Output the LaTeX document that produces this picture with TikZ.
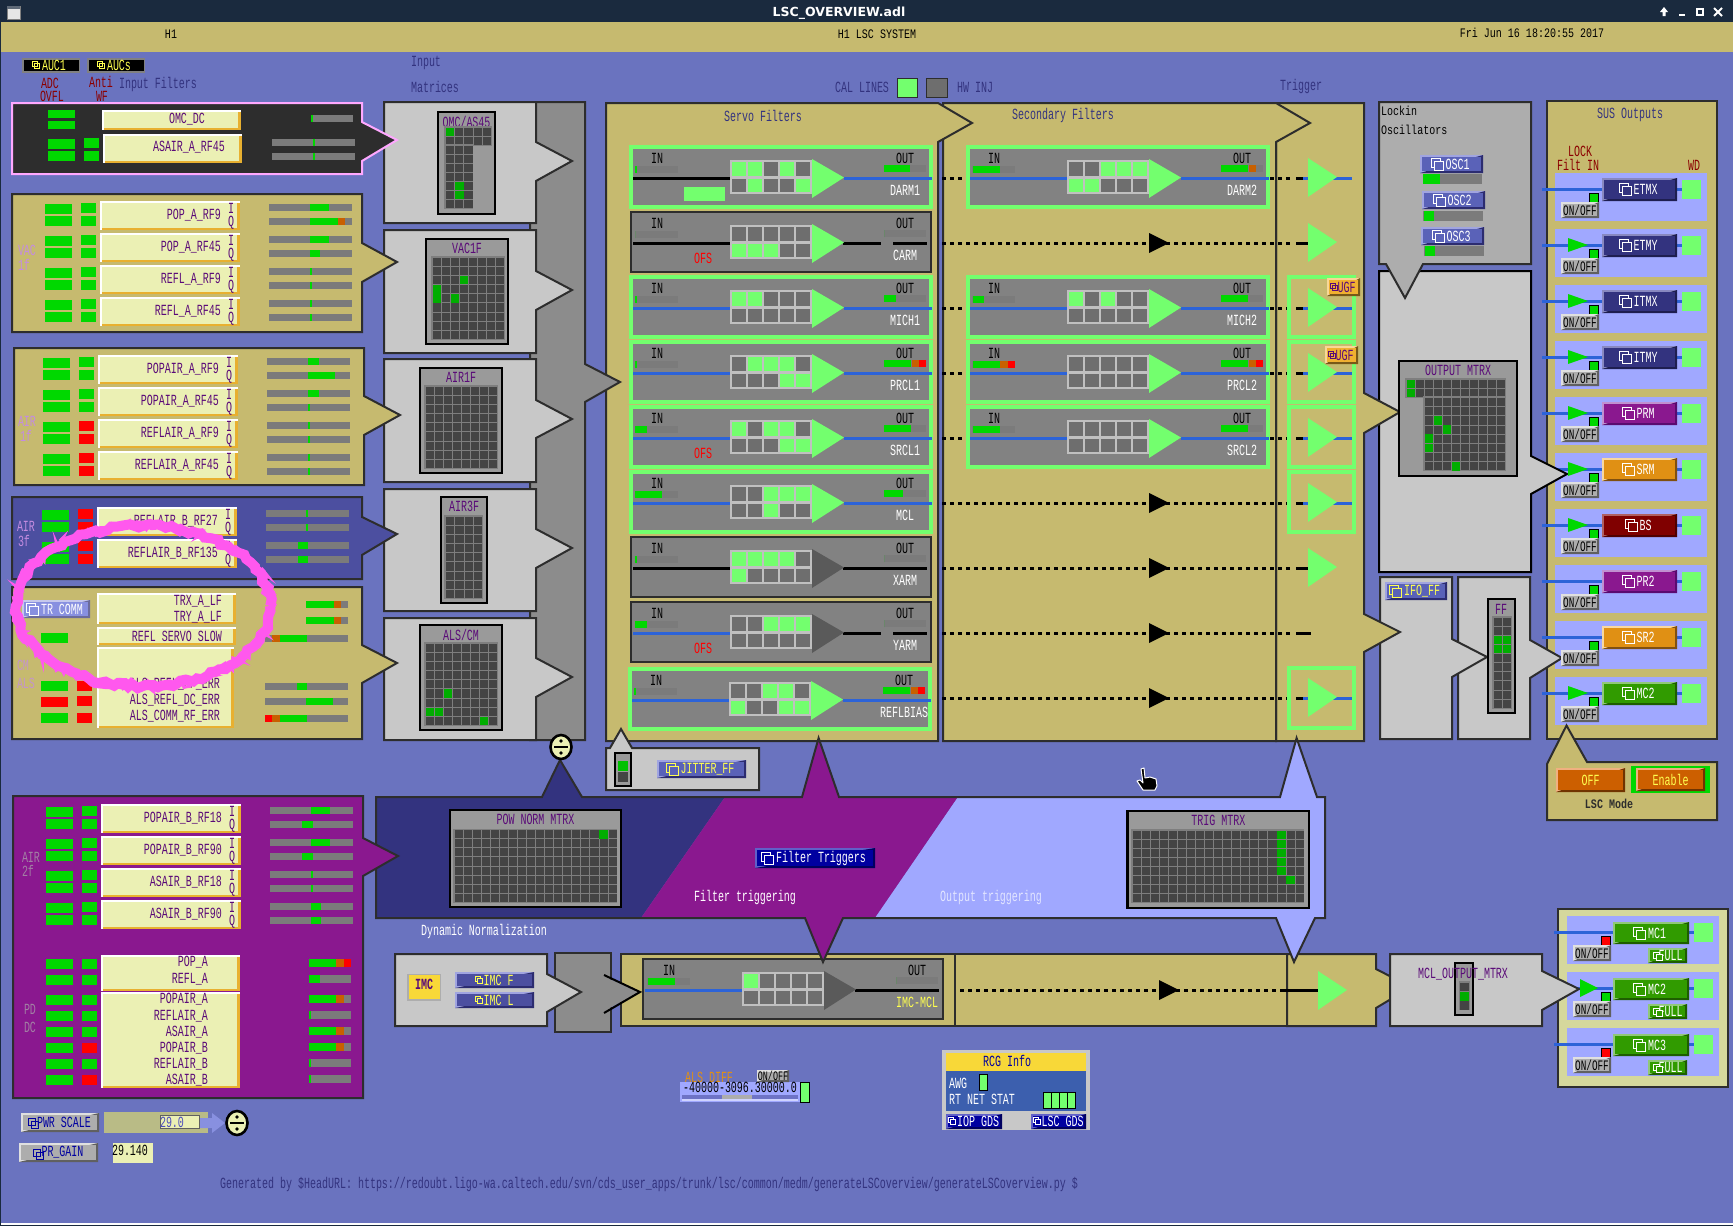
\documentclass[tikz,border=0pt]{standalone}
\usepackage{fontspec}
\usetikzlibrary{decorations.pathmorphing}
\newfontfamily\pf[FakeStretch=0.645]{Liberation Mono}
\newfontfamily\hf[FakeStretch=0.77]{Liberation Mono}
\newfontfamily\tf{DejaVu Sans}
\definecolor{bgb}{HTML}{6A73BF}
\definecolor{tanc}{HTML}{C6BA6F}
\definecolor{lyel}{HTML}{EBF0B4}
\definecolor{pgray}{HTML}{C8C8C8}
\definecolor{bandg}{HTML}{8C8C8C}
\definecolor{edge}{HTML}{2D2D2D}
\definecolor{grn}{HTML}{00D800}
\definecolor{lgrn}{HTML}{73FF6E}
\definecolor{org}{HTML}{C86000}
\definecolor{rd}{HTML}{FF0000}
\definecolor{barg}{HTML}{7B7B7B}
\definecolor{ptxt}{HTML}{5A0A78}
\definecolor{purp}{HTML}{8A188F}
\definecolor{purl}{HTML}{C090D0}
\definecolor{purd}{HTML}{5A0A70}
\definecolor{nv}{HTML}{33337F}
\definecolor{nvl}{HTML}{8888C0}
\definecolor{nvd}{HTML}{1E1E50}
\definecolor{mnv}{HTML}{4C4FA0}
\definecolor{lav}{HTML}{A0A8FF}
\definecolor{wblue}{HTML}{2C63D8}
\definecolor{modg}{HTML}{828282}
\definecolor{cellg}{HTML}{6E6E6E}
\definecolor{cbox}{HTML}{C0C0C0}
\definecolor{dtri}{HTML}{5A5A5A}
\definecolor{loy}{HTML}{E8B030}
\definecolor{sorg}{HTML}{E09014}
\definecolor{sorl}{HTML}{F8D8A0}
\definecolor{sord}{HTML}{805010}
\definecolor{mar}{HTML}{800000}
\definecolor{marl}{HTML}{B06060}
\definecolor{mard}{HTML}{500000}
\definecolor{gre}{HTML}{319B00}
\definecolor{grel}{HTML}{90C878}
\definecolor{gred}{HTML}{1E5E00}
\definecolor{oran}{HTML}{CC5F00}
\definecolor{oranl}{HTML}{F0B080}
\definecolor{orand}{HTML}{703400}
\definecolor{dk}{HTML}{9A9A9A}
\definecolor{cellk}{HTML}{444444}
\definecolor{gridb}{HTML}{7E7E7E}
\definecolor{ybtn}{HTML}{F8D838}
\definecolor{yt}{HTML}{FFFF50}
\definecolor{dblue}{HTML}{0000A0}
\definecolor{dbll}{HTML}{6060C8}
\definecolor{dbld}{HTML}{000060}
\definecolor{gbtn}{HTML}{ADADAD}
\definecolor{gbl}{HTML}{E0E0E0}
\definecolor{gbd}{HTML}{606060}
\definecolor{mnl}{HTML}{A0A4E0}
\definecolor{mnd}{HTML}{2C2C70}
\definecolor{mb}{HTML}{5A62B8}
\definecolor{trc}{HTML}{8890E0}
\definecolor{pale}{HTML}{D5D89C}
\definecolor{darkred}{HTML}{8B0000}
\definecolor{faint}{HTML}{C48CE0}
\definecolor{title}{HTML}{1A2A3E}
\definecolor{rcgb}{HTML}{3C5FAE}
\definecolor{ubtn}{HTML}{F0B030}
\definecolor{scr}{HTML}{FF58EE}
\definecolor{pinkb}{HTML}{FFA8FF}
\definecolor{olive}{HTML}{B9BB86}
\newcounter{nid}
\tikzset{
 lab/.style={inner sep=0pt,font=\pf\fontsize{15.5}{16}\selectfont},
 hlab/.style={inner sep=0pt,font=\hf\fontsize{13}{14}\selectfont},
 pan/.style={draw=edge,line width=2pt,line join=miter},
 dotw/.style={line width=3pt,dash pattern=on 3.6pt off 4.4pt,black},
 wire/.style={line width=3pt,wblue},
 wirek/.style={line width=3pt,black},
 frG/.style={draw=lgrn,line width=3.6pt},
 frK/.style={draw=edge,line width=2.6pt},
}
\newcommand{\tx}[5]{\stepcounter{nid}\node[lab,text=#3,anchor=#4] (t\thenid) at (#1,#2) {#5};}
\newcommand{\hx}[5]{\stepcounter{nid}\node[hlab,text=#3,anchor=#4] (t\thenid) at (#1,#2) {#5};}
\newcommand{\rr}[5]{\fill[fill=#5] (#1,#2) rectangle (#3,#4);}
\newcommand{\lvl}[5]{\fill[barg] (#1,#3) rectangle (#2,#3+#4);
 \foreach \segA/\segB/\segC in {#5} {\fill[fill=\segC] (\segA,#3) rectangle (\segB,#3+#4);}}
\newcommand{\lvlm}[5]{\fill[barg] (#1,#3) rectangle (#2,#3+#4);
 \foreach \segA/\segB/\segC in #5 {\fill[fill=\segC] (\segA,#3) rectangle (\segB,#3+#4);}}
\newcommand{\parr}[9]{\draw[pan,#9] (#1,#2) -- (#3,#2) -- (#3,#5) -- (#6,#7) -- (#3,#8) -- (#3,#4) -- (#1,#4) -- cycle;}
\newcommand{\lbox}[4]{\fill[lyel] (#1,#2) rectangle (#3,#4);
 \fill[loy] (#1,#4-2) rectangle (#3,#4); \fill[loy] (#3-3,#2) rectangle (#3,#4);
 \fill[white] (#1,#2) rectangle (#3,#2+2); \fill[white] (#1,#2) rectangle (#1+1.5,#4);}
\newcommand{\bev}[7]{\fill[fill=#6] (#1,#2) rectangle (#3,#4);
 \fill[fill=#7] (#3,#2) -- (#3,#4) -- (#1,#4) -- cycle;
 \fill[fill=#5] (#1+2,#2+2) rectangle (#3-2,#4-2);}
\newcommand{\btn}[9]{\bev{#1}{#2}{#3}{#4}{#5}{#6}{#7}\stepcounter{nid}
 \node[lab,text=#8] (b\thenid) at ({(#1+#3)/2+6},{(#2+#4)/2}) {#9};
 \draw[draw=#8,line width=.9pt] ([shift={(-14,-6)}]b\thenid.west) rectangle +(9,9);
 \draw[draw=#8,line width=.9pt,fill=#5] ([shift={(-11,-3)}]b\thenid.west) rectangle +(9,9);}
\newcommand{\sbtn}[9]{\bev{#1}{#2}{#3}{#4}{#5}{#6}{#7}\stepcounter{nid}
 \node[lab,text=#8] (b\thenid) at ({(#1+#3)/2+4},{(#2+#4)/2}) {#9};
 \draw[draw=#8,line width=.8pt] ([shift={(-8,-4)}]b\thenid.west) rectangle +(5,5);
 \draw[draw=#8,line width=.8pt,fill=#5] ([shift={(-6,-2)}]b\thenid.west) rectangle +(5,5);}
\newcommand{\pbtn}[9]{\bev{#1}{#2}{#3}{#4}{#5}{#6}{#7}\stepcounter{nid}
 \node[lab,text=#8] (b\thenid) at ({(#1+#3)/2},{(#2+#4)/2}) {#9};}
\newcommand{\onoff}[2]{\pbtn{#1}{#2}{#1+38}{#2+16}{gbtn}{gbl}{gbd}{black}{\fontsize{14.5}{15}\selectfont ON/OFF}}
\newcommand{\grid}[7]{\fill[gridb] (#1-1,#2-1) rectangle ({#1+#3*#5+.5},{#2+#4*#6+.5});
 \foreach \i in {1,...,#3} \foreach \j in {1,...,#4}
  {\fill[cellk] ({#1+(\i-1)*#5+.7},{#2+(\j-1)*#6+.7}) rectangle ({#1+\i*#5-.3},{#2+\j*#6-.3});}
 \foreach \gc/\gr in {#7} {\ifnum\gc<0\else
  \fill[fill=grn!80!black] ({#1+\gc*#5+.5},{#2+\gr*#6+.5}) rectangle ({#1+(\gc+1)*#5},{#2+(\gr+1)*#6});\fi}}
\newcommand{\mtxbox}[5]{\draw[fill=dk,line width=2.4pt,draw=black] (#1,#2) rectangle (#3,#4); \tx{{(#1+#3)/2}}{#2+9.5}{ptxt}{center}{#5}}
\newcommand{\rfrow}[7]{\rr{#1}{#2}{#1+27}{#2+10}{grn}\rr{#1}{#2+12}{#1+27}{#2+22}{grn}
 \rr{#1+36}{#2-1}{#1+51}{#2+9}{#4}\rr{#1+36}{#2+12}{#1+51}{#2+22}{#5}
 \lbox{#1+55}{#2-3}{#1+195}{#2+26}
 \tx{#1+176}{#2+11}{ptxt}{east}{#3}\tx{#1+186}{#2+4}{ptxt}{center}{I}\tx{#1+186}{#2+19}{ptxt}{center}{Q}
 \lvl{#1+224}{#1+307}{#2}{7}{#6}\lvl{#1+224}{#1+307}{#2+14}{7}{#7}}
\def\namecol{white}
\newcommand{\fmod}[9]{\begin{scope}[shift={(#1,#2)}]
 \draw[#3,fill=modg] (2,2) rectangle (302,62);
 \tx{28}{13}{black}{center}{IN}\tx{276}{13}{black}{center}{OUT}
 \lvl{6}{49}{21}{7}{#6}\lvl{255}{297}{20}{7}{#7}
 \draw[line width=3pt,draw=#5] (4,33) -- (101,33);
 #4
 \tx{276}{45}{\namecol}{center}{#9}
 \fmodB{#8}}
\newcommand{\fmodB}[3]{\fill[cbox] (101,15) rectangle (183,49);
 \foreach \v [count=\i] in {#2} {\ifnum\v=1\def\cl{lgrn}\else\def\cl{cellg}\fi\fill[fill=\cl] ({103+(\i-1)*16},17) rectangle ({117+(\i-1)*16},31);}
 \foreach \v [count=\i] in {#3} {\ifnum\v=1\def\cl{lgrn}\else\def\cl{cellg}\fi\fill[fill=\cl] ({103+(\i-1)*16},34) rectangle ({117+(\i-1)*16},47);}
 \fill[fill=#1] (183,14) -- (215,32.5) -- (183,53) -- cycle;
 \end{scope}}
\newcommand{\rw}{\draw[wire] (215,33) -- (303,33);}
\newcommand{\rk}{\draw[wirek] (214,33) -- (252,33) (264,33) -- (298,33);}
\newcommand{\rks}{\draw[wirek] (214,33) -- (298,33);}
\newcommand{\divd}[2]{\draw[fill=lyel,line width=2.6pt,draw=black] (#1,#2) ellipse [x radius=10.5, y radius=12];
 \draw[black,line width=2pt] (#1-7,#2) -- (#1+7,#2); \fill[black] (#1,#2-6) circle (1.9) (#1,#2+6) circle (1.9);}
\newcommand{\trg}[1]{\fill[lgrn] (1308,#1-20) -- (1337,#1-1) -- (1308,#1+19) -- cycle;}
\newcommand{\uarr}[2]{\fill[black] (#1,#2-10) -- (#1+20,#2) -- (#1,#2+10) -- cycle;}
\begin{document}
\begin{tikzpicture}[x=1pt,y=-1pt]
\useasboundingbox (0,0) rectangle (1733,1226);
\fill[bgb] (0,0) rectangle (1733,1226);
\fill[title] (0,0) rectangle (1733,22);
\fill[white] (0,1222.5) rectangle (1733,1225);
\fill[title] (0,1225) rectangle (1733,1226);
\fill[title] (0,22) rectangle (1,1226);
\fill[tanc] (1,22) rectangle (1733,52);
\draw[fill=white!90!black,draw=gray] (7,6) rectangle (20,19); \fill[title!70] (7,6) rectangle (20,9);
\node[inner sep=0pt,text=white,font=\tf\bfseries\fontsize{12.5}{14}\selectfont] (ttl) at (839,13) {LSC\_OVERVIEW.adl};
\fill[white] (1664,7) -- (1668,12) -- (1665.5,12) -- (1665.5,16) -- (1662.5,16) -- (1662.5,12) -- (1660,12) -- cycle;
\fill[white] (1679,13.5) rectangle (1685,15.5);
\draw[white,line width=1.5pt] (1697,9) rectangle (1703,15);
\draw[white,line width=2pt] (1714,8) -- (1722,16) (1722,8) -- (1714,16);
\hx{171}{34}{black}{center}{H1}
\hx{877}{34}{black}{center}{H1 LSC SYSTEM}
\hx{1532}{33}{black}{center}{Fri Jun 16 18:20:55 2017}
% top labels
\tx{50}{83}{darkred}{center}{ADC}\tx{52}{96}{darkred}{center}{OVFL}
\tx{101}{82}{darkred}{center}{Anti}\tx{102}{96}{darkred}{center}{WF}
\tx{158}{84}{nv}{center}{Input Filters}
\tx{426}{63}{nv}{center}{Input}\tx{435}{87}{nv}{center}{Matrices}
\tx{862}{87}{nv}{center}{CAL LINES}\tx{975}{87}{nv}{center}{HW INJ}\tx{1301}{86}{nv}{center}{Trigger}
\draw[fill=lgrn,draw=edge,line width=1pt] (897,78) rectangle (917,97);
\draw[fill=cellg,draw=edge,line width=1pt] (926,78) rectangle (947,97);
\foreach \xa/\xb/\st in {22/80/AUC1,87/145/AUCs}{
 \fill[gray] (\xa,58) rectangle (\xb,72.5); \fill[black] (\xa+1.5,59.5) rectangle (\xb-1.5,71);
 \stepcounter{nid}\node[lab,text=yt] (a\thenid) at ({(\xa+\xb)/2+3},65) {\st};
 \draw[yt,line width=.8pt] ([shift={(-9,-4)}]a\thenid.west) rectangle +(5,5) ([shift={(-7,-2)}]a\thenid.west) rectangle +(5,5);}
% ===== SUS panel
\draw[pan,fill=tanc] (1547,101) rectangle (1717,739);
\tx{1630}{115}{nv}{center}{SUS Outputs}
\tx{1580}{151}{darkred}{center}{LOCK}\tx{1578}{165}{darkred}{center}{Filt IN}\tx{1694}{165}{darkred}{center}{WD}
\foreach \k in {0,...,9}{
 \pgfmathsetmacro\yy{173+56*\k}
 \fill[lav] (1555,\yy) rectangle (1707,\yy+48);
 \draw[wire] (1542,\yy+16) -- (1602,\yy+16);
 \draw[wire] (1677,\yy+16) -- (1682,\yy+16);}
% ===== output panels
\parr{1379}{271}{1531}{572}{456}{1567}{474}{494}{fill=pgray,draw=black}
\parr{1458}{577}{1530}{739}{640}{1562}{658}{678}{fill=pgray}
\parr{1380}{577}{1452}{739}{639}{1487}{657}{677}{fill=pgray}
% ===== servo panels
\draw[pan,fill=tanc] (1276,103) -- (1364,103) -- (1364,393) -- (1400,412) -- (1364,433) -- (1364,614) -- (1400,632) -- (1364,652) -- (1364,741) -- (1276,741) -- cycle;
\draw[pan,fill=tanc] (943,103) -- (1276,103) -- (1310,123) -- (1276,142) -- (1276,741) -- (943,741) -- cycle;
\draw[pan,fill=tanc] (606,103) -- (938,103) -- (972,123) -- (938,142) -- (938,741) -- (606,741) -- cycle;
\tx{763}{116}{nv}{center}{Servo Filters}\tx{1063}{115}{nv}{center}{Secondary Filters}
% band + matrix panels
\draw[pan,fill=bandg] (530,102) -- (585,102) -- (585,364) -- (620,382) -- (585,402) -- (585,740) -- (530,740) -- cycle;
\parr{384}{102}{536}{223}{142}{572}{161}{181}{fill=pgray}
\parr{384}{230}{536}{353}{271}{572}{290}{310}{fill=pgray}
\parr{384}{359}{536}{482}{400}{572}{419}{438}{fill=pgray}
\parr{384}{489}{536}{611}{529}{572}{548}{568}{fill=pgray}
\parr{384}{618}{536}{740}{658}{572}{677}{697}{fill=pgray}
\mtxbox{438}{112}{495}{214}{OMC/AS45}
\grid{445}{127}{5}{2}{9.3}{9}{0/0}
\grid{445}{145}{3}{7}{9.3}{9}{1/4,1/5}
\mtxbox{426}{239}{508}{344}{VAC1F}
\grid{432}{257}{8}{9}{9.05}{9.15}{3/2,0/3,0/4,2/4}
\mtxbox{420}{368}{502}{473}{AIR1F}
\grid{425}{386}{8}{9}{9.05}{9.15}{-1/-1}
\mtxbox{441}{497}{487}{603}{AIR3F}
\grid{445}{516}{4}{9}{9.4}{9.15}{-1/-1}
\mtxbox{420}{625}{502}{730}{ALS/CM}
\grid{425}{643}{8}{9}{9.05}{9.15}{2/5,0/7,1/7,6/8}
% ===== input filter panels
\parr{12}{103}{362}{174}{122}{397}{140}{161}{fill=edge,draw=pinkb}
\rr{48}{110}{75}{118}{grn}\rr{48}{121}{75}{129}{grn}\rr{48}{139}{75}{149}{grn}\rr{48}{151}{75}{161}{grn}
\rr{84}{138}{99}{148}{grn}\rr{84}{151}{99}{161}{grn}
\lbox{102}{110}{241}{130}\lbox{103}{134}{242}{163}
\tx{187}{119}{ptxt}{center}{OMC\_DC}\tx{189}{147}{ptxt}{center}{ASAIR\_A\_RF45}
\lvl{311}{353}{115}{7}{311/313/grn}\lvl{272}{355}{139}{7}{313/315/grn}\lvl{272}{355}{153}{7}{313/315/grn}
%
\parr{12}{194}{362}{332}{243}{397}{262}{282}{fill=tanc}
\tx{27}{250}{faint}{center}{VAC}\tx{24}{265}{faint}{center}{1f}
\rfrow{45}{204}{POP\_A\_RF9}{grn}{grn}{310/329/grn}{310/338/grn,338/345/org}
\rfrow{45}{236}{POP\_A\_RF45}{grn}{grn}{310/329/grn}{310/320/grn}
\rfrow{45}{268}{REFL\_A\_RF9}{grn}{grn}{310/312/grn}{310/312/grn}
\rfrow{45}{300}{REFL\_A\_RF45}{grn}{grn}{310/312/grn}{310/312/grn}
%
\parr{14}{348}{364}{485}{396}{400}{415}{435}{fill=tanc}
\tx{27}{421}{faint}{center}{AIR}\tx{26}{436}{faint}{center}{1f}
\rfrow{43}{358}{POPAIR\_A\_RF9}{grn}{grn}{308/319/grn}{308/335/grn}
\rfrow{43}{390}{POPAIR\_A\_RF45}{grn}{grn}{308/319/grn}{308/310/grn}
\rfrow{43}{422}{REFLAIR\_A\_RF9}{rd}{rd}{308/310/grn}{308/310/grn}
\rfrow{43}{454}{REFLAIR\_A\_RF45}{rd}{rd}{308/310/grn}{308/310/grn}
%
\parr{12}{497}{362}{579}{517}{397}{534}{555}{fill=mnv}
\tx{26}{526}{faint}{center}{AIR}\tx{24}{541}{faint}{center}{3f}
\rfrow{42}{510}{REFLAIR\_B\_RF27}{rd}{rd}{306/308/grn}{306/308/grn}
\rfrow{42}{542}{REFLAIR\_B\_RF135}{rd}{rd}{298/308/grn}{298/308/grn}
%
\parr{12}{587}{362}{739}{645}{397}{663}{683}{fill=tanc}
\btn{22}{600}{90}{618}{trc}{mnl!60!white}{mnd!70}{white}{TR COMM}
\lbox{97}{593}{236}{624}\lbox{97}{627}{236}{645}\lbox{97}{647}{234}{728}
\tx{222}{601}{ptxt}{east}{TRX\_A\_LF}\tx{222}{617}{ptxt}{east}{TRY\_A\_LF}
\tx{222}{636}{ptxt}{east}{REFL SERVO SLOW}
\tx{220}{684}{ptxt}{east}{ALS\_REFL\_RF\_ERR}\tx{220}{700}{ptxt}{east}{ALS\_REFL\_DC\_ERR}\tx{220}{716}{ptxt}{east}{ALS\_COMM\_RF\_ERR}
\rr{41}{633}{68}{643}{grn}\rr{41}{681}{68}{691}{grn}\rr{41}{697}{68}{707}{rd}\rr{41}{713}{68}{723}{grn}
\rr{77}{681}{92}{691}{rd}\rr{77}{696}{92}{706}{rd}\rr{77}{713}{92}{723}{rd}
\lvl{306}{348}{601}{7}{306/334/grn,334/341/org}\lvl{306}{348}{617}{7}{306/334/grn,334/341/org}
\lvl{265}{348}{635}{7}{272/280/org,280/307/grn}
\lvl{265}{348}{683}{7}{297/307/grn}\lvl{265}{348}{698}{7}{306/333/grn}\lvl{265}{348}{715}{7}{265/272/rd,272/280/org,280/307/grn}
\tx{23}{665}{faint!80!tanc}{center}{CM}\tx{26}{683}{faint!80!tanc}{center}{ALS}
% ===== dotted lines and trigger
\foreach \yc in {178,308,373,438}{\draw[dotw] (942,\yc) -- (966,\yc);}
\foreach \yc in {243,503,568,633,698}{\draw[dotw] (942,\yc) -- (1292,\yc); \uarr{1149}{\yc}}
\foreach \yc in {178,308,373,438}{\draw[dotw] (1270,\yc) -- (1292,\yc);}
\foreach \yf in {275,340,405,470,666}{\draw[lgrn,line width=3.5pt] (1289,\yf+2) rectangle (1354,\yf+62);}
\foreach \yc in {178,308,373,438,503,698}{\draw[wirek] (1296,\yc) -- (1304,\yc); \draw[wire] (1303,\yc) -- (1352,\yc); \trg{\yc}}
\foreach \yc in {243,568}{\draw[wirek] (1296,\yc) -- (1308,\yc); \trg{\yc}}
\draw[wirek] (1296,633) -- (1311,633);
\pbtn{1327}{278}{1360}{296}{ubtn}{ubtn!50!white}{ubtn!50!black}{ptxt}{\hspace{6pt}UGF}
\pbtn{1325}{346}{1358}{364}{ubtn}{ubtn!50!white}{ubtn!50!black}{ptxt}{\hspace{6pt}UGF}
\foreach \xb/\yb in {1330/287,1328/355}{\draw[ptxt,line width=.7pt] (\xb,\yb-4) rectangle +(5,5) (\xb+2,\yb-2) rectangle +(5,5);}
% ===== filter modules
\fmod{629}{145}{frG}{\rw}{black}{6/8/grn}{255/281/grn}{lgrn}{DARM1}{1,1,0,1,0}{0,1,0,0,1}
\rr{684}{187}{725}{201}{lgrn}
\fmod{629}{210}{frK}{\rk}{black}{6/6/grn}{255/255/grn}{lgrn}{CARM}{0,0,0,0,0}{1,1,1,0,0}
\tx{703}{258}{rd}{center}{OFS}
\fmod{629}{275}{frG}{\rw}{wblue}{6/8/grn}{255/267/grn}{lgrn}{MICH1}{1,1,0,0,0}{0,0,0,0,0}
\fmod{629}{340}{frG}{\rw}{wblue}{6/8/grn}{255/282/grn,283/290/org,290/297/rd}{lgrn}{PRCL1}{0,1,1,1,0}{0,0,0,1,1}
\fmod{629}{405}{frG}{\rw}{wblue}{6/18/grn}{255/282/grn}{lgrn}{SRCL1}{1,0,1,1,0}{0,0,0,1,1}
\tx{703}{453}{rd}{center}{OFS}
\fmod{629}{470}{frG}{\rw}{wblue}{6/33/grn}{255/274/grn}{lgrn}{MCL}{0,0,1,1,1}{0,0,1,0,0}
\fmod{629}{535}{frK}{\rks}{black}{6/8/grn}{255/255/grn}{dtri}{XARM}{1,1,1,1,0}{1,0,0,0,0}
\fmod{629}{600}{frK}{\rk}{wblue}{6/18/grn}{255/255/grn}{dtri}{YARM}{0,0,1,1,1}{0,0,0,0,0}
\tx{703}{648}{rd}{center}{OFS}
\fmod{628}{667}{frG}{\rw}{wblue}{6/8/grn}{255/282/grn,283/290/org,290/297/rd}{lgrn}{REFLBIAS}{0,0,1,1,0}{1,0,0,1,1}
\fmod{966}{145}{frG}{\rw}{wblue}{7/34/grn}{255/282/grn,283/290/org}{lgrn}{DARM2}{0,0,1,1,1}{1,1,0,0,0}
\fmod{966}{275}{frG}{\rw}{wblue}{7/18/grn}{255/282/grn}{lgrn}{MICH2}{1,0,1,0,0}{0,0,0,0,0}
\fmod{966}{340}{frG}{\rw}{wblue}{7/34/grn,34/42/org,42/49/rd}{255/282/grn,283/290/org,290/297/rd}{lgrn}{PRCL2}{0,0,0,0,0}{0,0,0,0,0}
\fmod{966}{405}{frG}{\rw}{wblue}{7/34/grn}{255/282/grn}{lgrn}{SRCL2}{0,0,0,0,0}{0,0,0,0,0}
% ===== lockin
\draw[pan,fill=gbtn] (1379,102) -- (1531,102) -- (1531,264) -- (1423,264) -- (1405,298) -- (1386,264) -- (1379,264) -- cycle;
\hx{1381}{111}{black}{west}{Lockin}\hx{1381}{130}{black}{west}{Oscillators}
\btn{1420}{155}{1483}{173}{mb}{mnl}{mnd}{white}{OSC1}\lvl{1423}{1482}{174}{10}{1423/1440/grn}
\btn{1422}{191}{1485}{209}{mb}{mnl}{mnd}{white}{OSC2}\lvl{1423}{1483}{211}{10}{1424/1434/grn}
\btn{1421}{227}{1484}{245}{mb}{mnl}{mnd}{white}{OSC3}\lvl{1424}{1484}{246}{10}{1425/1435/grn}
% output matrix
\mtxbox{1399}{361}{1517}{476}{OUTPUT MTRX}
\grid{1406}{379}{11}{2}{9.06}{9.17}{0/0,0/1}
\grid{1424.1}{397.3}{9}{8}{9.06}{9.17}{1/2,2/3,0/4,0/5,3/7}
\btn{1385}{582}{1447}{600}{mb}{mnl}{mnd}{yt}{IFO\_FF}
\draw[fill=dk,line width=2.4pt,draw=black] (1488,599) rectangle (1515,713);
\tx{1501}{609}{ptxt}{center}{FF}
\grid{1493}{617}{2}{10}{9}{9.1}{0/2,1/2,0/3,1/3}
% SUS buttons
\foreach \k/\nm/\bM/\bL/\bD/\tri in {0/ETMX/nv/nvl/nvd/0,1/ETMY/nv/nvl/nvd/1,2/ITMX/nv/nvl/nvd/1,3/ITMY/nv/nvl/nvd/1,4/PRM/purp/purl/purd/1,5/SRM/sorg/sorl/sord/1,6/BS/mar/marl/mard/1,7/PR2/purp/purl/purd/0,8/SR2/sorg/sorl/sord/0,9/MC2/gre/grel/gred/1}{
 \pgfmathsetmacro\yy{173+56*\k}
 \ifnum\tri=1 \fill[grn] (1568,\yy+9) -- (1588,\yy+16) -- (1568,\yy+23) -- cycle;\fi
 \btn{1602}{\yy+5}{1677}{\yy+28}{\bM}{\bL}{\bD}{white}{\nm}
 \fill[lgrn] (1682,\yy+7) rectangle (1701,\yy+26);
 \draw[fill=grn,draw=black,line width=1pt] (1589.5,\yy+20.5) rectangle (1598.5,\yy+29);
 \onoff{1561}{\yy+29}}
% LSC Mode
\draw[pan,fill=tanc] (1547,764) -- (1566.5,725.5) -- (1587,762) -- (1717,762) -- (1717,820) -- (1547,820) -- cycle;
\pbtn{1556}{768}{1625}{792}{oran}{oranl}{orand}{yt}{OFF}
\rr{1631}{766}{1710}{793}{grn}
\pbtn{1636}{768}{1705}{791}{oran}{oranl}{orand}{yt}{Enable}
\node[hlab,text=edge,font=\hf\bfseries\fontsize{13}{14}\selectfont] (lscm) at (1609,804) {LSC Mode};
% ===== bottom row
\draw[pan,fill=tanc] (621,954) rectangle (1287,1026);
\draw[pan,fill=tanc] (1287,954) -- (1376,954) -- (1376,969) -- (1411,987) -- (1376,1008) -- (1376,1026) -- (1287,1026) -- cycle;
\draw[pan] (955,954) -- (955,1026);
\draw[pan,fill=bandg] (555,953) rectangle (611,1032);
\fill[bandg] (600,975) -- (640,992) -- (600,1013) -- cycle;
\draw[black,line width=2pt] (604,975) -- (640,992) -- (604,1013);
\parr{395}{954}{547}{1026}{974}{581}{992}{1012}{fill=pgray}
\rr{407}{974}{441}{1001}{gbtn}\rr{409}{975}{440}{999}{ybtn}
\node[lab,text=ptxt,font=\pf\bfseries\fontsize{15.5}{16}\selectfont] (imcb) at (424,984) {IMC};
\sbtn{455}{972}{534}{988}{mnv}{mnl}{mnd}{yt}{IMC F}
\sbtn{455}{992}{534}{1008}{mnv}{mnl}{mnd}{yt}{IMC L}
\def\namecol{yt}
\fmod{641}{957}{frK}{\rks}{wblue}{7/34/grn}{255/255/grn}{dtri}{IMC-MCL}{1,0,0,0,0}{0,0,0,0,0}
\def\namecol{white}
\draw[dotw] (960,990) -- (1283,990); \uarr{1159}{990}
\draw[wirek] (1281,990) -- (1318,990);
\fill[lgrn] (1318,971) -- (1347,990) -- (1318,1010) -- cycle;
% right MC panel
\draw[pan,fill=pale] (1558,909) rectangle (1728,1087);
\foreach \yy in {916,972,1028}{\fill[lav] (1567,\yy) rectangle (1719,\yy+48);
 \draw[wire] (1554,\yy+16) -- (1613,\yy+16); \draw[wire] (1689,\yy+16) -- (1694,\yy+16);}
\parr{1390}{954}{1542}{1026}{971}{1579}{989}{1010}{fill=pgray}
\draw[fill=dk,line width=2.4pt,draw=black] (1455,963) rectangle (1473,1015);
\grid{1459.5}{982}{1}{3}{9.5}{9.3}{0/1}
\tx{1463}{974}{ptxt}{center}{MCL\_OUTPUT\_MTRX}
\fill[grn] (1580,979) -- (1598,988) -- (1580,997) -- cycle;
\foreach \yy/\nm/\sq in {916/MC1/rd,972/MC2/grn,1028/MC3/rd}{
 \btn{1613}{\yy+6}{1689}{\yy+28}{gre}{grel}{gred}{white}{\nm}
 \fill[lgrn] (1694,\yy+7) rectangle (1713,\yy+26);
 \draw[fill=\sq,draw=black,line width=1pt] (1601.5,\yy+20.5) rectangle (1610.5,\yy+29);
 \onoff{1573}{\yy+29}
 \pbtn{1648}{\yy+32}{1687}{\yy+47}{gre}{grel}{gred}{white}{\ FULL}
 \draw[white,line width=.8pt] (1653,\yy+36) rectangle +(6,6);
 \draw[draw=white,fill=gre,line width=.8pt] (1656,\yy+38) rectangle +(6,6);}
% ===== trigger band
\fill[nv] (376,797) -- (542,797) -- (560,760) -- (582,797) -- (725,797) -- (641,918) -- (376,918) -- cycle;
\fill[purp] (725,797) -- (802,797) -- (818.6,738) -- (839,797) -- (958,797) -- (875,918) -- (843,918) -- (823,962) -- (805,918) -- (641,918) -- cycle;
\fill[lav] (958,797) -- (1280,797) -- (1296.6,738) -- (1317,797) -- (1325,797) -- (1325,918) -- (1315,918) -- (1294,962) -- (1276,918) -- (875,918) -- cycle;
\draw[pan] (376,797) -- (542,797) -- (560,760) -- (582,797) -- (802,797) -- (818.6,738) -- (839,797) -- (1280,797) -- (1296.6,738) -- (1317,797) -- (1325,797) -- (1325,918) -- (1315,918) -- (1294,962) -- (1276,918) -- (843,918) -- (823,962) -- (805,918) -- (376,918) -- cycle;
\mtxbox{450}{810}{621}{907}{POW NORM MTRX}
\grid{454}{829.6}{18}{8}{9.05}{9.05}{16/0}
\mtxbox{1127.5}{811}{1309}{908}{TRIG MTRX}
\grid{1132}{830}{19}{8}{9.05}{9.05}{16/0,16/1,16/2,16/3,16/4,17/5}
\btn{755}{848}{875}{868}{dblue}{dbll}{dbld}{white}{Filter Triggers}
\tx{745}{897}{white}{center}{Filter triggering}
\tx{991}{897}{white!70!lav}{center}{Output triggering}
\tx{484}{931}{white}{center}{Dynamic Normalization}
\divd{561}{747}
% jitter
\draw[pan,fill=pgray] (606,748) -- (610,748) -- (621,729) -- (632,748) -- (759,748) -- (759,790) -- (606,790) -- cycle;
\draw[fill=dk,line width=2pt,draw=black] (615,753) rectangle (631,786);
\rr{618}{761}{628}{771}{grn!90!black}\rr{618}{772}{628}{782}{cellk}
\btn{657}{760}{746}{778}{mb}{mnl}{mnd}{yt}{JITTER\_FF}
% hand cursor
\draw[white,fill=black,line width=1pt,line join=round] (1141,769) -- (1144,768) -- (1145,778) -- (1150,777) -- (1156,779) -- (1157,786) -- (1155,790) -- (1143,790) -- (1137,781) -- (1140,780) -- (1143,783) -- cycle;
% ===== purple panel
\parr{13}{796}{363}{1098}{838}{398}{856}{876}{fill=purp}
\tx{31}{857}{gbtn!70!purp}{center}{AIR}\tx{28}{871}{gbtn!70!purp}{center}{2f}
\tx{30}{1009}{gbtn!70!purp}{center}{PD}\tx{30}{1027}{gbtn!70!purp}{center}{DC}
\rfrow{46}{807}{POPAIR\_B\_RF18}{grn}{grn}{311/330/grn}{302/313/grn}
\rfrow{46}{839}{POPAIR\_B\_RF90}{grn}{grn}{311/330/grn}{302/313/grn}
\rfrow{46}{871}{ASAIR\_B\_RF18}{grn}{grn}{311/313/grn}{311/313/grn}
\rfrow{46}{903}{ASAIR\_B\_RF90}{grn}{grn}{311/321/grn}{311/321/grn}
\lbox{101}{955}{240}{991}\lbox{101}{992}{240}{1088}
\tx{208}{962}{ptxt}{east}{POP\_A}\tx{208}{979}{ptxt}{east}{REFL\_A}
\foreach \yb/\cb/\sg in {959/grn/{309/336/grn,336/344/org,344/351/rd},975/grn/{309/320/grn},995/grn/{309/336/grn,336/344/org},1011/grn/{309/311/grn},1027/grn/{309/336/grn,336/344/org},1043/rd/{309/336/grn,336/344/org},1059/grn/{309/311/grn},1075/rd/{309/311/grn}}{
 \rr{46}{\yb}{73}{\yb+10}{grn}\rr{82}{\yb}{97}{\yb+10}{\cb}
 \lvlm{309}{351}{\yb}{8}{\sg}}
\tx{208}{999.5}{ptxt}{east}{POPAIR\_A}\tx{208}{1016}{ptxt}{east}{REFLAIR\_A}\tx{208}{1032}{ptxt}{east}{ASAIR\_A}
\tx{208}{1048}{ptxt}{east}{POPAIR\_B}\tx{208}{1064}{ptxt}{east}{REFLAIR\_B}\tx{208}{1080}{ptxt}{east}{ASAIR\_B}
% ===== lower left
\pbtn{21}{1113}{99}{1132}{gbtn}{gbl}{gbd}{dblue}{\hspace{8pt}PWR SCALE}
\draw[dblue,line width=.9pt] (28,1118) rectangle +(7,7) (31,1121) rectangle +(7,7);
\rr{104}{1112}{208}{1133}{olive}
\fill[trc] (199,1118) -- (212,1118) -- (212,1113) -- (225,1123) -- (212,1133) -- (212,1128) -- (199,1128) -- cycle;
\draw[fill=lyel,draw=gbd,line width=1pt] (160,1115.5) rectangle (199,1128.5);
\tx{172}{1122}{dblue!70!white}{center}{29.0}
\divd{237}{1123}
\pbtn{19}{1143}{98}{1162}{gbtn}{gbl}{gbd}{dblue}{\hspace{8pt}PR\_GAIN}
\draw[dblue,line width=.9pt] (33,1149) rectangle +(7,7) (36,1152) rectangle +(7,7);
\rr{113}{1143}{153}{1163}{lyel}
\tx{130}{1150}{black}{center}{29.140}
\tx{649}{1184}{nv}{center}{Generated by \$HeadURL: https://redoubt.ligo-wa.caltech.edu/svn/cds\_user\_apps/trunk/lsc/common/medm/generateLSCoverview/generateLSCoverview.py \$}
% ALS diff
\tx{709}{1077}{sorg}{center}{ALS DIFF}
\rr{680}{1082}{800}{1102}{lav}
\pbtn{757}{1070}{789}{1082}{gbtn}{gbl}{gbd}{black}{\fontsize{13}{13}\selectfont ON/OFF}
\tx{740}{1087.5}{black}{center}{-40000-3096.30000.0}
\rr{682}{1095}{798}{1101}{mnv!60!lav}\rr{682}{1099}{798}{1101}{lav!50!white}
\rr{722}{1095}{752}{1099}{gbtn}
\draw[fill=lgrn,draw=black,line width=1pt] (800.5,1082.5) rectangle (809.5,1102);
% RCG
\rr{942}{1050}{1090}{1130}{pgray}
\rr{946}{1053}{1086}{1071}{ybtn}\rr{946}{1071}{1086}{1111}{rcgb}
\tx{1007}{1061}{dblue}{center}{RCG Info}
\tx{958}{1083}{white}{center}{AWG}\tx{982}{1099}{white}{center}{RT NET STAT}
\draw[fill=lgrn,draw=black,line width=1pt] (979,1074.5) rectangle (987.5,1090);
\draw[fill=lgrn,draw=black,line width=1pt] (1043,1092) rectangle (1075,1108);
\draw[black,line width=1pt] (1051,1092) -- (1051,1108) (1059,1092) -- (1059,1108) (1067,1092) -- (1067,1108);
\sbtn{946}{1114}{1002}{1129}{dblue}{dbll}{dbld}{white}{IOP GDS}
\sbtn{1031}{1114}{1086}{1129}{dblue}{dbll}{dbld}{white}{LSC GDS}
% ===== scribble
\pgfmathsetseed{7}
\draw[scr,line width=10pt,decorate,decoration={random steps,segment length=5pt,amplitude=2.2pt}] (143,606) ellipse [x radius=127, y radius=80];
\draw[scr,line width=3pt,decorate,decoration={random steps,segment length=4pt,amplitude=5pt}] (143,606) ellipse [x radius=128, y radius=81];
\end{tikzpicture}
\end{document}
